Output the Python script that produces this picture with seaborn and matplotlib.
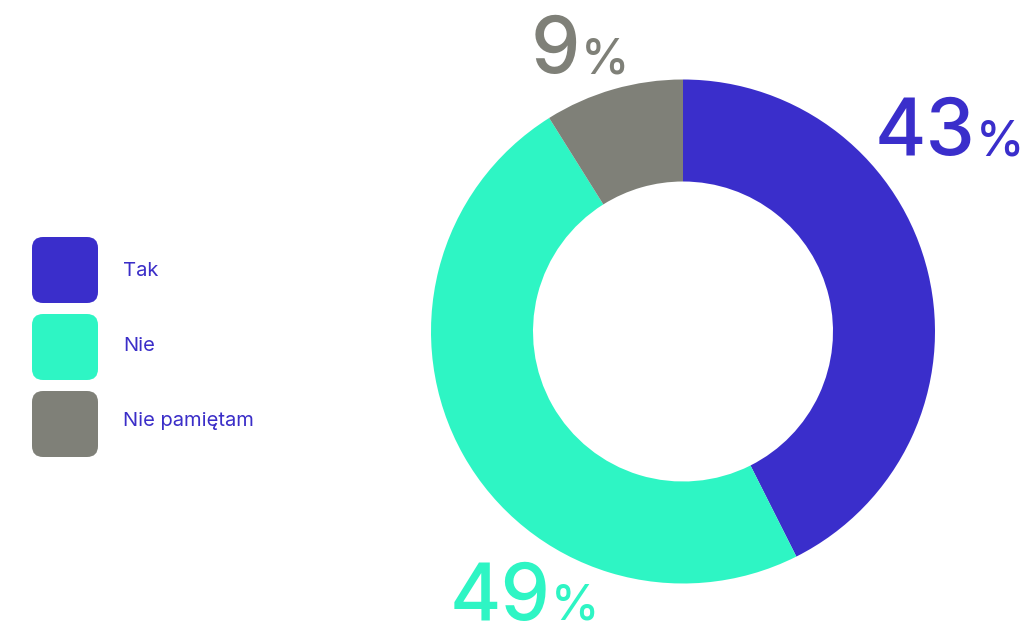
import matplotlib
matplotlib.use("Agg")
import matplotlib.pyplot as plt
from matplotlib.patches import FancyBboxPatch
import seaborn as sns

# Survey answers and their shares (percent)
categories = ["Tak", "Nie", "Nie pamiętam"]
values = [43, 49, 9]
value_labels = ["43", "49", "9"]

palette = sns.color_palette(["#3A2ECB", "#2EF5C4", "#7F8078"])
text_blue = "#3B2EC8"

sns.set_theme(style="white")
plt.rcParams["font.family"] = ["Inter", "DejaVu Sans"]

W, H = 1025, 626
fig = plt.figure(figsize=(W / 100, H / 100), dpi=100)
ax = fig.add_axes([0, 0, 1, 1])

# Donut
cx, cy = 683, H - 331.5
outer_r, ring_w = 252, 102
ax.pie(values, colors=palette, startangle=90, counterclock=False,
       radius=outer_r, center=(cx, cy),
       wedgeprops=dict(width=ring_w, edgecolor="none", linewidth=0))

ax.set_xlim(0, W)
ax.set_ylim(0, H)
ax.set_aspect("equal")
ax.axis("off")

# Big percentage labels: number and a smaller percent sign on a shared baseline
label_pos = [  # (right edge of number, baseline y)
    (975, 155),
    (550, 620),
    (580, 73),
]
for (xr, yb), txt, col in zip(label_pos, value_labels, palette):
    ax.text(xr, H - yb, txt, ha="right", va="baseline", fontsize=56.5,
            fontweight="medium", color=col)
    ax.text(xr + 1, H - yb, "%", ha="left", va="baseline", fontsize=35,
            fontweight="medium", color=col)

# Legend with rounded swatches
box_tops = [237, 314, 391]
box_size = 66
text_baselines = [276, 351, 426]
for top, base, cat, col in zip(box_tops, text_baselines, categories, palette):
    ax.add_patch(FancyBboxPatch((32 + 11, H - top - box_size + 11),
                                box_size - 22, box_size - 22,
                                boxstyle="round,pad=11",
                                facecolor=col, edgecolor="none"))
    ax.text(123, H - base, cat, ha="left", va="baseline", fontsize=14.5,
            color=text_blue)

fig.savefig("out.png", dpi=100, facecolor="white")
